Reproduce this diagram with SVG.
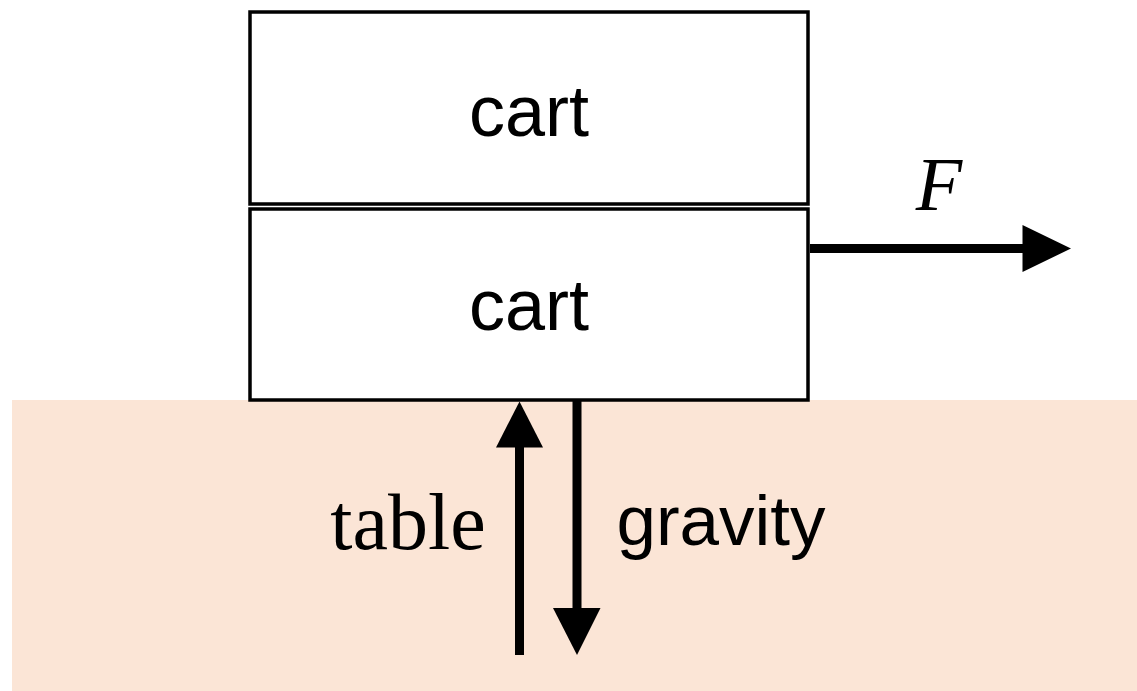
<svg xmlns="http://www.w3.org/2000/svg" width="1137" height="691" viewBox="0 0 1137 691">
  <style>
    .box { fill: #FFFFFF; stroke: #000000; stroke-width: 3.5; }
    .sans { font-family: "Liberation Sans", Arial, sans-serif; fill: #000000; }
    .serif { font-family: "Liberation Serif", "Times New Roman", serif; fill: #000000; }
    .conn { stroke: #000000; stroke-width: 9; fill: none; }
    .head { fill: #000000; }
  </style>
  <rect width="1137" height="691" fill="#FFFFFF"/>
  <g id="table">
    <rect x="12" y="400" width="1125" height="291" fill="#FBE5D6"/>
  </g>
  <g id="cart-top">
    <rect class="box" x="250" y="12" width="558" height="192"/>
    <text class="sans" x="529" y="136" font-size="72" text-anchor="middle">cart</text>
  </g>
  <g id="cart-bottom">
    <rect class="box" x="250" y="209" width="558" height="191"/>
    <text class="sans" x="529" y="330" font-size="72" text-anchor="middle">cart</text>
  </g>
  <g id="connectors">
    <line class="conn" x1="810" y1="248.5" x2="1025" y2="248.5"/>
    <polygon class="head" points="1022.5,225 1071,248.5 1022.5,272"/>
    <line class="conn" x1="519.5" y1="655" x2="519.5" y2="445"/>
    <polygon class="head" points="496,447.5 519.5,401.5 543,447.5"/>
    <line class="conn" x1="577" y1="401" x2="577" y2="610"/>
    <polygon class="head" points="553,608 577,655 600.5,608"/>
  </g>
  <g id="labels">
    <text class="serif" x="939" y="210" font-size="76" font-style="italic" text-anchor="middle">F</text>
    <text class="serif" x="408" y="549" font-size="80" text-anchor="middle">table</text>
    <text class="sans" x="721" y="545" font-size="71" text-anchor="middle">gravity</text>
  </g>
</svg>
